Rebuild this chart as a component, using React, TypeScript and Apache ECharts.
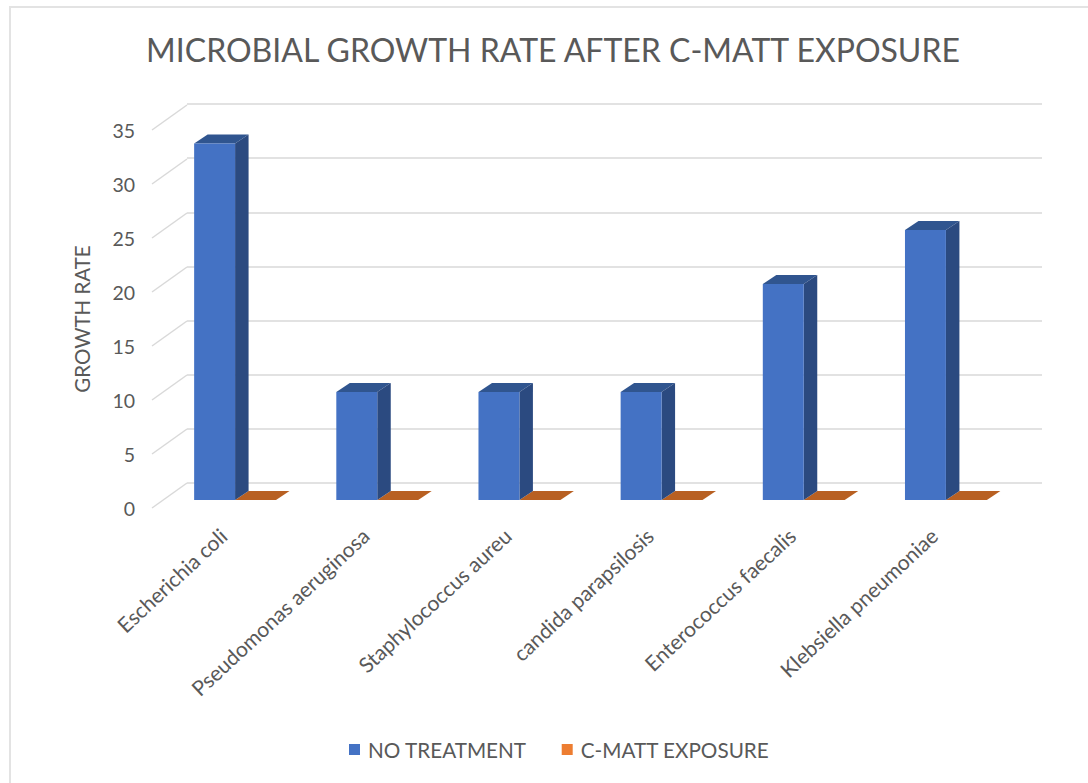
import React, { useEffect, useRef } from "react";
import * as echarts from "echarts";

const categories = [
  "Escherichia coli",
  "Pseudomonas aeruginosa",
  "Staphylococcus aureu",
  "candida parapsilosis",
  "Enterococcus faecalis",
  "Klebsiella pneumoniae",
];
const noTreatment = [33, 10, 10, 10, 20, 25];
const cMattExposure = [0, 0, 0, 0, 0, 0];
const yTicks = [0, 5, 10, 15, 20, 25, 30, 35];

const FONT = "Lato";
const TEXT = "#595959";
const GRID_LINE = "#d9d9d9";

// Oblique projection of the 3D column chart: wall depth and column depth, in pixels.
const WALL_DX = 35;
const WALL_DY = -25;
const BAR_SHIFT_X = 12;
const BAR_SHIFT_Y = -8;
const DEPTH_X = 13.5;
const DEPTH_Y = -9;
const BAR_RATIO = 0.288;

function columnRenderer(side: -1 | 0, front: string, right: string, top: string) {
  return (_: any, api: any) => {
    const [cx, yTop] = api.coord([api.value(0), api.value(1)]);
    const [, yBase] = api.coord([api.value(0), 0]);
    const w = api.size([1, 0])[0] * BAR_RATIO;
    const x0 = cx + BAR_SHIFT_X + side * w;
    const x1 = x0 + w;
    const y0 = yBase + BAR_SHIFT_Y;
    const y1 = yTop + BAR_SHIFT_Y;
    const poly = (points: number[][], fill: string) => ({
      type: "polygon",
      shape: { points },
      style: { fill },
    });
    return {
      type: "group",
      children: [
        poly(
          [[x0, y1], [x1, y1], [x1 + DEPTH_X, y1 + DEPTH_Y], [x0 + DEPTH_X, y1 + DEPTH_Y]],
          top,
        ),
        poly(
          [[x1, y1], [x1 + DEPTH_X, y1 + DEPTH_Y], [x1 + DEPTH_X, y0 + DEPTH_Y], [x1, y0]],
          right,
        ),
        poly([[x0, y1], [x1, y1], [x1, y0], [x0, y0]], front),
      ],
    };
  };
}

// Slanted side-wall lines joining each front tick to its gridline on the back wall.
function wallEdgeRenderer(params: any, api: any) {
  const y = api.coord([0, api.value(1)])[1];
  const x = params.coordSys.x;
  return {
    type: "line",
    shape: { x1: x, y1: y, x2: x + WALL_DX, y2: y + WALL_DY },
    style: { stroke: GRID_LINE, lineWidth: 1.5 },
  };
}

export default function App() {
  const ref = useRef<HTMLDivElement>(null);

  useEffect(() => {
    const chart = echarts.init(ref.current!, undefined, { renderer: "svg" });
    const hiddenAxis = { show: false };
    chart.setOption({
      animation: false,
      backgroundColor: "#ffffff",
      title: {
        text: "MICROBIAL GROWTH RATE AFTER C-MATT EXPOSURE",
        left: 548,
        top: 28,
        textAlign: "center",
        textStyle: { fontFamily: FONT, fontSize: 32, fontWeight: "normal", color: TEXT },
      },
      legend: {
        data: ["NO TREATMENT", "C-MATT EXPOSURE"],
        left: 344,
        top: 734,
        icon: "rect",
        itemWidth: 11,
        itemHeight: 11,
        itemGap: 35,
        textStyle: { fontFamily: FONT, fontSize: 20.7, color: TEXT, padding: [0, 0, 0, 3] },
      },
      grid: [
        // back wall, carries the gridlines
        { left: 187, top: 104, width: 855, height: 379 },
        // front plane, carries the tick labels and the columns
        { left: 152, top: 130, width: 853, height: 378 },
      ],
      xAxis: [
        { type: "category", gridIndex: 0, data: categories, ...hiddenAxis },
        {
          type: "category",
          gridIndex: 1,
          data: categories,
          axisLine: { show: false },
          axisTick: { show: false },
          axisLabel: {
            rotate: 43,
            interval: 0,
            margin: 24,
            fontFamily: FONT,
            fontSize: 21,
            color: TEXT,
          },
        },
      ],
      yAxis: [
        {
          type: "value",
          gridIndex: 0,
          min: 0,
          max: 35,
          interval: 5,
          axisLine: { show: false },
          axisTick: { show: false },
          axisLabel: { show: false },
          splitLine: { show: true, lineStyle: { color: GRID_LINE, width: 1.5 } },
        },
        {
          type: "value",
          gridIndex: 1,
          min: 0,
          max: 35,
          interval: 5,
          name: "GROWTH RATE",
          nameLocation: "middle",
          nameGap: 60,
          nameTextStyle: { fontFamily: FONT, fontSize: 20.5, color: TEXT },
          axisLine: { show: false },
          axisTick: { show: false },
          splitLine: { show: false },
          axisLabel: { margin: 17, fontFamily: FONT, fontSize: 19.5, color: TEXT },
        },
      ],
      series: [
        {
          type: "custom",
          name: "wall edges",
          xAxisIndex: 1,
          yAxisIndex: 1,
          silent: true,
          renderItem: wallEdgeRenderer,
          encode: { x: 0, y: 1 },
          data: yTicks.map((v) => [0, v]),
          z: 1,
        },
        {
          type: "custom",
          name: "NO TREATMENT",
          xAxisIndex: 1,
          yAxisIndex: 1,
          itemStyle: { color: "#4472c4" },
          renderItem: columnRenderer(-1, "#4472c4", "#2b4a80", "#30558f"),
          encode: { x: 0, y: 1 },
          data: noTreatment.map((v, i) => [i, v]),
          z: 3,
        },
        {
          type: "custom",
          name: "C-MATT EXPOSURE",
          xAxisIndex: 1,
          yAxisIndex: 1,
          itemStyle: { color: "#ed7d31" },
          renderItem: columnRenderer(0, "#ed7d31", "#a65a22", "#b86022"),
          encode: { x: 0, y: 1 },
          data: cMattExposure.map((v, i) => [i, v]),
          z: 2,
        },
      ],
    });
    return () => chart.dispose();
  }, []);

  return (
    <div style={{ position: "absolute", left: 0, top: 0, width: 1088, height: 783, overflow: "hidden", background: "#fff" }}>
      <div ref={ref} style={{ width: 1088, height: 783 }} />
      <div
        style={{
          position: "absolute",
          left: 9,
          top: 6,
          width: 1100,
          height: 800,
          border: "2px solid #e3e3e3",
          pointerEvents: "none",
        }}
      />
    </div>
  );
}
